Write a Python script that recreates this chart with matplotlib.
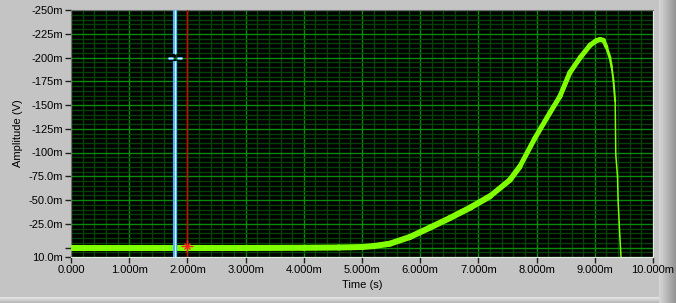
import numpy as np
import matplotlib
matplotlib.use("Agg")
import matplotlib.pyplot as plt
from matplotlib.ticker import MultipleLocator
from matplotlib.collections import LineCollection

# ---------------------------------------------------------------------------
# data (time in ms, amplitude in mV)
t_ms = [0.0, 1.0, 2.0, 3.0, 4.0, 4.6, 5.0, 5.2, 5.48, 5.82, 6.17, 6.51, 6.86,
        7.2, 7.54, 7.71, 7.97, 8.23, 8.4, 8.57, 8.75, 8.92, 9.02, 9.09, 9.15,
        9.2, 9.26, 9.29, 9.32, 9.35, 9.36, 9.39, 9.40, 9.43, 9.46]
amp_mv = [0.5, 0.5, 0.5, 0.5, 0.3, 0.0, -0.5, -1.5, -4, -11, -21, -31, -42,
          -54, -71, -85, -115, -142, -159, -184, -200, -213, -217.5, -219, -218,
          -211, -200, -190, -176, -154, -98, -75, -50, -12, 20]
# visible thickness of the noisy trace at each point, in pixels
noise_px = [6, 6, 6, 6, 6, 6, 6, 6, 6, 6, 6, 6, 6,
            5.5, 5.5, 5, 5, 5, 5, 5, 5, 5, 5, 5, 4,
            3, 2.5, 2, 2, 1.5, 1.5, 1.5, 1.5, 1.5, 1.5]

x_ticks_ms = list(range(0, 11))
x_tick_labels = ["0.000"] + [f"{i}.000m" for i in range(1, 11)]
y_ticks_mv = [-250, -225, -200, -175, -150, -125, -100, -75, -50, -25, 0, 10]
y_tick_labels = ["-250m", "-225m", "-200m", "-175m", "-150m", "-125m", "-100m",
                 "-75.0m", "-50.0m", "-25.0m", "", "10.0m"]

cursor1_t_ms = 1.79      # blue cursor
cursor1_v_mv = -200
cursor2_t_ms = 2.0       # red cursor
cursor2_v_mv = -1.4

# ---------------------------------------------------------------------------
t = np.array(t_ms) * 1e-3
amp = np.array(amp_mv) * 1e-3

bg = '#c4c4c4'
trace = '#80ff00'
plt.rcParams['font.family'] = ['Liberation Sans', 'DejaVu Sans']

fig = plt.figure(figsize=(6.76, 3.03), dpi=100, facecolor=bg)

# frame decorations of the front panel (behind the graph)
bez = fig.add_axes([659/676, 0, 17/676, 1], zorder=0)
bez.imshow(np.linspace(0.84, 0.58, 64)[None, :], cmap='gray', vmin=0, vmax=1,
           aspect='auto', extent=[0, 1, 0, 1])
bez.set_axis_off()
bot = fig.add_axes([0, 0, 659/676, 6/303], zorder=0)
bot.imshow(np.linspace(0.9, 0.72, 16)[:, None], cmap='gray', vmin=0, vmax=1,
           aspect='auto', extent=[0, 1, 0, 1])
bot.set_axis_off()

ax = fig.add_axes([71/676, 1 - 257/303, 582/676, 247/303], zorder=2)
ax.set_facecolor('black')

ax.set_xlim(0, 10e-3)
ax.set_ylim(10e-3, -250e-3)

ax.set_xticks(np.array(x_ticks_ms) * 1e-3)
ax.set_xticklabels(x_tick_labels)
ax.set_yticks(np.array(y_ticks_mv) * 1e-3)
ax.set_yticklabels(y_tick_labels)
ax.xaxis.set_minor_locator(MultipleLocator(0.2e-3))
ax.yaxis.set_minor_locator(MultipleLocator(5e-3))

ax.grid(which='minor', color='#064206', linewidth=1)
ax.grid(which='major', color='#0a8c0a', linewidth=1)
ax.set_axisbelow(True)

ax.tick_params(which='major', direction='out', length=4, width=1,
               color='#202020', labelsize=8, pad=2)
ax.tick_params(which='minor', length=0)
for side in ['left', 'top']:
    ax.spines[side].set_color('#707070')
for side in ['right', 'bottom']:
    ax.spines[side].set_color('#e8e8e8')

ax.set_xlabel('Time (s)', fontsize=8, labelpad=3)
ax.set_ylabel('Amplitude (V)', fontsize=8, labelpad=4)

# signal, thickness per segment follows the noise band
pts = np.column_stack([t, amp])
segs = np.stack([pts[:-1], pts[1:]], axis=1)
widths = np.array(noise_px[:-1]) * 72 / 100
lc = LineCollection(segs, colors=trace, linewidths=widths, capstyle='round',
                    joinstyle='round', zorder=3)
ax.add_collection(lc)

# cursor 1 (blue) with crosshair gap
c1t = cursor1_t_ms * 1e-3
c1v = cursor1_v_mv * 1e-3
gap = 3.3e-3
for y0, y1 in [(-250e-3, c1v - gap), (c1v + gap, 10e-3)]:
    ax.plot([c1t, c1t], [y0, y1], color='#4cb4ff', linewidth=3, zorder=4,
            solid_capstyle='butt')
    ax.plot([c1t, c1t], [y0, y1], color='#d8f0ff', linewidth=0.8, zorder=4,
            solid_capstyle='butt')
for x0, x1 in [(c1t - 0.115e-3, c1t - 0.035e-3), (c1t + 0.035e-3, c1t + 0.115e-3)]:
    ax.plot([x0, x1], [c1v, c1v], color='#4cb4ff', linewidth=2, zorder=4,
            solid_capstyle='butt')
    ax.plot([x0, x1], [c1v, c1v], color='#e8f6ff', linewidth=0.7, zorder=4,
            solid_capstyle='butt')

# cursor 2 (red)
c2t = cursor2_t_ms * 1e-3
ax.axvline(c2t, color='#d80000', linewidth=1, zorder=4)
ax.plot([c2t], [cursor2_v_mv * 1e-3], marker='+', color='#ff2020',
        markersize=8, markeredgewidth=1, zorder=5)
ax.plot([c2t], [cursor2_v_mv * 1e-3], marker='x', color='#ff2020',
        markersize=5, markeredgewidth=1, zorder=5)

fig.savefig('out.png', dpi=100, facecolor=bg)
